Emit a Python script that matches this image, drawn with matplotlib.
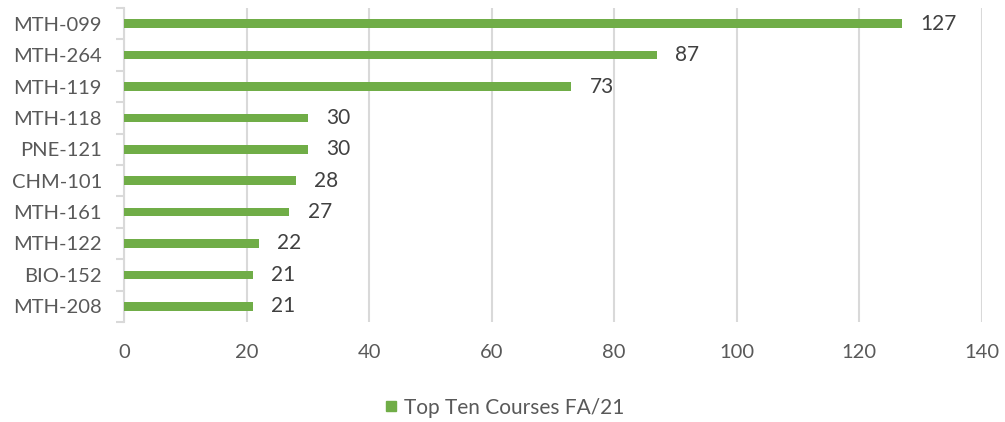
import matplotlib
matplotlib.use("Agg")
import matplotlib.pyplot as plt
from matplotlib.lines import Line2D

plt.rcParams['font.family'] = ['Lato', 'DejaVu Sans']

courses = ["MTH-099", "MTH-264", "MTH-119", "MTH-118", "PNE-121",
           "CHM-101", "MTH-161", "MTH-122", "BIO-152", "MTH-208"]
counts = [127, 87, 73, 30, 30, 28, 27, 22, 21, 21]
series_name = "Top Ten Courses FA/21"

green = "#70AD47"
grid_color = "#D9D9D9"

fig = plt.figure(figsize=(10.05, 4.22), dpi=100)
ax = fig.add_axes([0.1234, 0.237, 0.8536, 0.744])

ypos = list(range(len(courses)))
ax.barh(ypos, counts, height=0.27, color=green, zorder=3)
ax.set_ylim(len(courses) - 0.5, -0.5)
ax.set_xlim(0, 140)
ax.set_xticks(range(0, 141, 20))
ax.set_yticks(ypos)
ax.set_yticklabels(courses)
ax.set_yticks([i - 0.5 for i in range(len(courses) + 1)], minor=True)

fs = 14.5
ax.tick_params(axis='y', which='major', length=0, pad=16, labelsize=fs, labelcolor="#595959")
ax.tick_params(axis='y', which='minor', length=6, color=grid_color, width=1.5)
ax.tick_params(axis='x', length=0, pad=16, labelsize=fs, labelcolor="#595959")

ax.grid(axis='x', color=grid_color, linewidth=1.5, zorder=0)
for s in ['top', 'right', 'bottom']:
    ax.spines[s].set_visible(False)
ax.spines['left'].set_color(grid_color)
ax.spines['left'].set_linewidth(1.5)

for y, v in zip(ypos, counts):
    ax.annotate(str(v), (v, y), xytext=(13, 0), textcoords='offset points',
                va='center', ha='left', fontsize=15, color="#404040")

handle = Line2D([], [], marker='s', linestyle='none', color=green, markersize=7)
fig.legend([handle], [series_name], loc='center', bbox_to_anchor=(0.5, 0.034),
           frameon=False, fontsize=15, labelcolor="#595959", handletextpad=0.1,
           handlelength=1.0)

fig.savefig("out.png", dpi=100)
